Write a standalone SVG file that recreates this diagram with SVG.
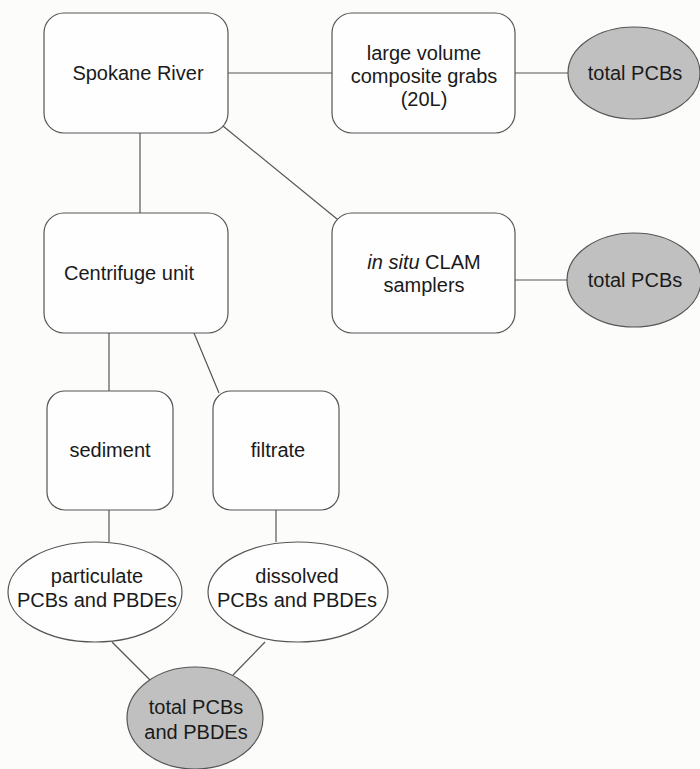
<svg xmlns="http://www.w3.org/2000/svg" width="700" height="769" viewBox="0 0 700 769">
<style>
.box{fill:#fefefe;stroke:#555;stroke-width:1.2}
.gray{fill:#c0c0c0;stroke:#555;stroke-width:1.2}
.wht{fill:#fefefe;stroke:#555;stroke-width:1.2}
.c line{stroke:#555;stroke-width:1.2}
text{font-family:"Liberation Sans",Arial,sans-serif;font-size:20px;fill:#1a1a1a;text-anchor:middle}
</style>
<rect width="700" height="769" fill="#fcfcfa"/>
<g class="c" id="connectors">
<line x1="228" y1="73" x2="332" y2="73"/>
<line x1="515" y1="73" x2="568" y2="73"/>
<line x1="140" y1="133" x2="140" y2="213"/>
<line x1="223" y1="126" x2="337" y2="219"/>
<line x1="515" y1="280" x2="567" y2="280"/>
<line x1="109" y1="333" x2="109" y2="391"/>
<line x1="194" y1="333" x2="219" y2="393"/>
<line x1="109" y1="510" x2="109" y2="542"/>
<line x1="276" y1="510" x2="276" y2="542"/>
<line x1="112" y1="642" x2="150" y2="680"/>
<line x1="265" y1="642" x2="233" y2="675"/>
</g>
<g id="spokane"><rect class="box" x="44" y="13" width="184" height="120" rx="20"/><text x="138" y="80">Spokane River</text></g>
<g id="grabs"><rect class="box" x="332" y="13" width="183" height="120" rx="20"/><text x="424" y="60">large volume</text><text x="424" y="83">composite grabs</text><text x="424" y="106">(20L)</text></g>
<g id="total1"><ellipse class="gray" cx="634" cy="73" rx="66" ry="46"/><text x="635" y="80">total PCBs</text></g>
<g id="clam"><rect class="box" x="332" y="213" width="183" height="120" rx="20"/><text x="424" y="269"><tspan font-style="italic">in situ</tspan> CLAM</text><text x="424" y="292">samplers</text></g>
<g id="total2"><ellipse class="gray" cx="634" cy="280" rx="67" ry="47"/><text x="635" y="287">total PCBs</text></g>
<g id="centrifuge"><rect class="box" x="44" y="213" width="184" height="120" rx="20"/><text x="129" y="280">Centrifuge unit</text></g>
<g id="sediment"><rect class="box" x="47" y="391" width="126" height="119" rx="18"/><text x="110" y="457">sediment</text></g>
<g id="filtrate"><rect class="box" x="213" y="391" width="126" height="119" rx="18"/><text x="278" y="457">filtrate</text></g>
<g id="particulate"><ellipse class="wht" cx="95" cy="592" rx="87" ry="50"/><text x="97" y="583">particulate</text><text x="97" y="607">PCBs and PBDEs</text></g>
<g id="dissolved"><ellipse class="wht" cx="298" cy="592" rx="90" ry="50"/><text x="297" y="583">dissolved</text><text x="297" y="607">PCBs and PBDEs</text></g>
<g id="total3"><ellipse class="gray" cx="195" cy="718" rx="68" ry="51"/><text x="196" y="714">total PCBs</text><text x="196" y="739">and PBDEs</text></g>
</svg>
